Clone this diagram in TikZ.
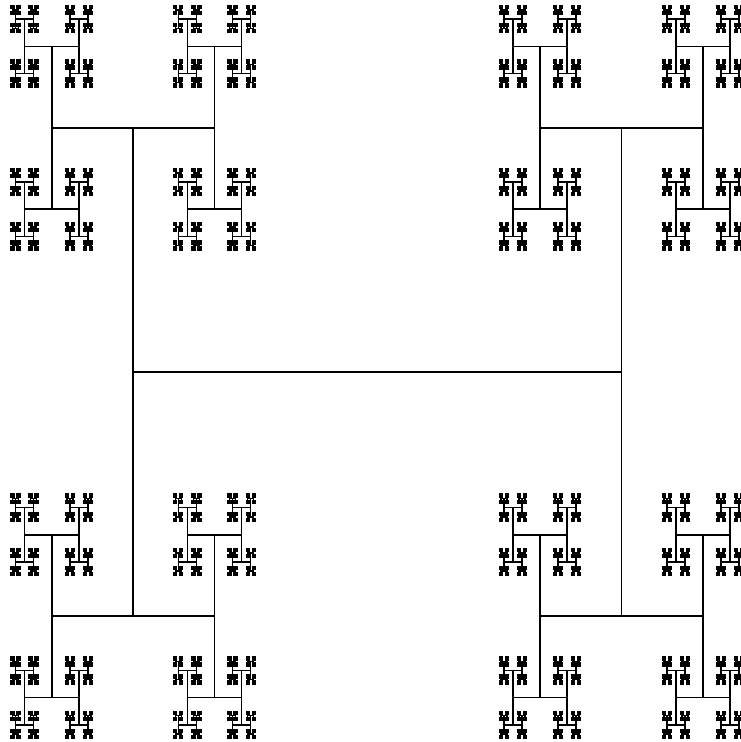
\documentclass[tikz,border=0pt]{standalone}
\def\HT#1#2#3#4{%
  \draw ({#1-#3},#2) -- ({#1+#3},#2)
        ({#1-#3},{#2-#3}) -- ({#1-#3},{#2+#3})
        ({#1+#3},{#2-#3}) -- ({#1+#3},{#2+#3});%
  \ifnum#4>1
    \pgfmathsetmacro\hnext{#3/3}%
    \pgfmathsetmacro\xa{#1-#3}\pgfmathsetmacro\xb{#1+#3}%
    \pgfmathsetmacro\ya{#2-#3}\pgfmathsetmacro\yb{#2+#3}%
    \pgfmathtruncatemacro\dnext{#4-1}%
    \edef\next{\noexpand\HT{\xa}{\ya}{\hnext}{\dnext}\noexpand\HT{\xa}{\yb}{\hnext}{\dnext}\noexpand\HT{\xb}{\ya}{\hnext}{\dnext}\noexpand\HT{\xb}{\yb}{\hnext}{\dnext}}%
    \next
  \fi}
\begin{document}
\begin{tikzpicture}[x=1pt,y=-1pt,line width=1.6pt,line cap=rect]
\useasboundingbox (0,0) rectangle (741,742);
\fill[white] (0,0) rectangle (741,742);
\clip (0,0) rectangle (741,742);
\HT{377.3}{372}{244.2}{7}
\end{tikzpicture}
\end{document}
